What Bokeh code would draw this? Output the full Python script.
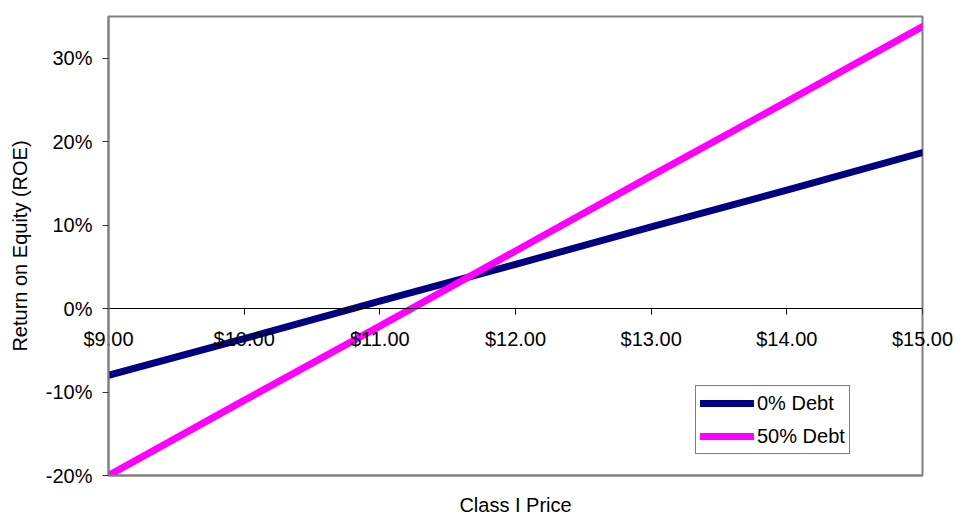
from bokeh.plotting import figure
from bokeh.models import (Range1d, LinearAxis, FixedTicker, PrintfTickFormatter,
                          NumeralTickFormatter, Legend, LegendItem)
from bokeh.embed import file_html
from bokeh.resources import INLINE

# Class I price ($) and return on equity (%) for two financing mixes
prices = [9, 10, 11, 12, 13, 14, 15]
roe_no_debt = [-8.0, -3.6, 0.9, 5.3, 9.8, 14.2, 18.7]
roe_half_debt = [-20.0, -11.0, -2.1, 6.9, 15.9, 24.8, 33.8]

price_ticks = [9, 10, 11, 12, 13, 14, 15]
roe_ticks = [-20, -10, 0, 10, 20, 30]

FONT = "Liberation Sans"
FS = "20px"

p = figure(width=957, height=519, output_backend="svg", toolbar_location=None,
           x_range=Range1d(9, 15), y_range=Range1d(-20, 35),
           x_axis_location=None,
           min_border_left=108, min_border_right=35,
           min_border_top=16, min_border_bottom=44)
p.background_fill_color = "white"
p.border_fill_color = "white"
p.outline_line_color = "#808080"
p.outline_line_width = 2
p.xgrid.visible = False
p.ygrid.visible = False

# y axis
ya = p.yaxis[0]
ya.ticker = FixedTicker(ticks=roe_ticks)
ya.formatter = PrintfTickFormatter(format="%d%%")
ya.minor_tick_line_color = None
ya.major_tick_out = 6
ya.major_tick_in = 0
ya.major_tick_line_color = "#333333"
ya.axis_line_color = "#808080"
ya.axis_line_width = 2
ya.major_label_standoff = 10
ya.major_label_text_font = FONT
ya.major_label_text_font_size = FS
ya.major_label_text_color = "black"
ya.axis_label = "Return on Equity (ROE)"
ya.axis_label_text_font = FONT
ya.axis_label_text_font_size = FS
ya.axis_label_text_font_style = "normal"
ya.axis_label_text_color = "black"
ya.axis_label_standoff = 12

# bottom axis: carries the price labels (lifted up to sit under the 0% line)
# and the axis title
xb = LinearAxis(ticker=FixedTicker(ticks=price_ticks),
                formatter=NumeralTickFormatter(format="$0.00"))
xb.minor_tick_line_color = None
xb.major_tick_line_color = None
xb.major_tick_out = 0
xb.major_tick_in = 0
xb.axis_line_color = "#808080"
xb.axis_line_width = 2
xb.major_label_standoff = -148
xb.major_label_text_font = FONT
xb.major_label_text_font_size = FS
xb.major_label_text_color = "black"
xb.axis_label = "Class I Price"
xb.axis_label_text_font = FONT
xb.axis_label_text_font_size = FS
xb.axis_label_text_font_style = "normal"
xb.axis_label_text_color = "black"
xb.axis_label_standoff = 141
p.add_layout(xb, "below")

# axis line and ticks crossing at 0%
xa = LinearAxis(fixed_location=0, ticker=FixedTicker(ticks=price_ticks))
xa.minor_tick_line_color = None
xa.major_tick_out = 6
xa.major_tick_in = 0
xa.axis_line_color = "black"
xa.major_tick_line_color = "black"
xa.major_label_text_color = None
xa.major_label_text_font_size = "1px"
xa.major_label_standoff = 0
p.add_layout(xa, "below")

r1 = p.line(prices, roe_no_debt, line_color="#000080", line_width=7, line_cap="round")
r2 = p.line(prices, roe_half_debt, line_color="#FF00FF", line_width=7, line_cap="round")

legend = Legend(items=[LegendItem(label="0% Debt", renderers=[r1]),
                       LegendItem(label="50% Debt", renderers=[r2])],
                location=(587, 21))
legend.border_line_color = "black"
legend.border_line_width = 1
legend.background_fill_alpha = 1
legend.padding = 4
legend.spacing = 7
legend.margin = 0
legend.glyph_width = 54
legend.glyph_height = 26
legend.label_height = 26
legend.label_standoff = 3
legend.label_text_font = FONT
legend.label_text_font_size = FS
legend.label_text_color = "black"
p.add_layout(legend, "center")

open("out.html", "w").write(file_html(p, INLINE))
